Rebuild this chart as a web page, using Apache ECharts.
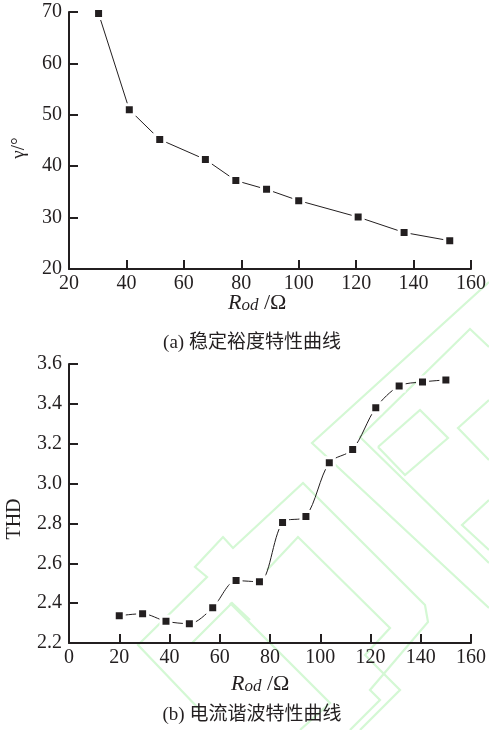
<!DOCTYPE html>
<html>
<head>
<meta charset="utf-8">
<script src="https://cdn.jsdelivr.net/npm/echarts@6/dist/echarts.min.js"></script>
<style>
html,body{margin:0;padding:0;background:#fff;}
#main{width:489px;height:730px;}
</style>
</head>
<body>
<div id="main"></div>
<script>
// Data (a): stability margin
var rodA = [30.3, 41, 51.6, 67.5, 78.1, 88.8, 100, 120.7, 136.7, 152.6];
var gammaA = [69.7, 51, 45.2, 41.3, 37.2, 35.5, 33.3, 30.1, 27.1, 25.5];
// Data (b): THD
var rodB = [20, 29.3, 38.6, 47.9, 57.2, 66.5, 75.8, 85, 94.3, 103.6, 112.9, 122.1, 131.4, 140.7, 150];
var thdB = [2.337, 2.347, 2.309, 2.297, 2.377, 2.513, 2.507, 2.805, 2.835, 3.105, 3.171, 3.38, 3.49, 3.51, 3.52];
// Ticks
var xTicksA = [20, 40, 60, 80, 100, 120, 140, 160];
var yTicksA = [20, 30, 40, 50, 60, 70];
var xTicksB = [0, 20, 40, 60, 80, 100, 120, 140, 160];
var yTicksB = [2.2, 2.4, 2.6, 2.8, 3.0, 3.2, 3.4, 3.6];

var FONT = "'Liberation Serif','Times New Roman',serif";
var CJK = "'Liberation Serif','Noto Sans CJK SC',serif";
var INK = '#231f20';

function pairs(xs, ys){ return xs.map(function(x,i){ return [x, ys[i]]; }); }

function axisCommon(){
  return {
    axisLine:{show:true, onZero:false, lineStyle:{color:INK, width:2}},
    axisTick:{show:true, inside:true, length:9, lineStyle:{color:INK, width:2}},
    splitLine:{show:false},
    axisLabel:{color:INK, fontFamily:FONT, fontSize:20}
  };
}
function mk(extra){ var o = axisCommon(); for (var k in extra){ if (k==='axisLabel'){ for (var j in extra[k]) o.axisLabel[j]=extra[k][j]; } else o[k]=extra[k]; } return o; }

var green = '#d4f8d4';
function wm(points){ return {type:'polyline', silent:true, z:-10, shape:{points:points}, style:{stroke:green, lineWidth:2.2, fill:null}}; }

var richName = {
  r:{font:'italic 22px '+FONT, fill:INK, lineHeight:22, verticalAlign:'bottom'},
  s:{font:'italic 17px '+FONT, fill:INK, lineHeight:17, verticalAlign:'bottom'},
  n:{font:'22px '+FONT, fill:INK, lineHeight:22, verticalAlign:'bottom'}
};

var chart = echarts.init(document.getElementById('main'));
chart.setOption({
  animation:false,
  backgroundColor:'#fff',
  grid:[
    {left:69, top:12, width:409, height:257},
    {left:69, top:364, width:410, height:279}
  ],
  xAxis:[
    mk({type:'value', gridIndex:0, min:xTicksA[0], max:xTicksA[xTicksA.length-1], interval:20, axisLabel:{margin:5}}),
    mk({type:'value', gridIndex:1, min:xTicksB[0], max:xTicksB[xTicksB.length-1], interval:20, axisLabel:{margin:5}})
  ],
  yAxis:[
    mk({type:'value', gridIndex:0, min:yTicksA[0], max:yTicksA[yTicksA.length-1], interval:10, axisLabel:{margin:7}}),
    mk({type:'value', gridIndex:1, min:yTicksB[0], max:yTicksB[yTicksB.length-1], interval:0.2, axisLabel:{margin:7, formatter:function(v){return v.toFixed(1);}}})
  ],
  series:[
    {type:'line', xAxisIndex:0, yAxisIndex:0, data:pairs(rodA, gammaA), symbol:'rect', symbolSize:10,
     lineStyle:{color:INK, width:1}, itemStyle:{color:INK, borderColor:'#fff', borderWidth:3}},
    {type:'line', xAxisIndex:1, yAxisIndex:1, data:pairs(rodB, thdB), symbol:'rect', symbolSize:10, smooth:0.3,
     lineStyle:{color:INK, width:1}, itemStyle:{color:INK, borderColor:'#fff', borderWidth:3}}
  ],
  graphic:[
    // watermark (decorative)
    wm([[489,282],[312,443],[489,608]]),
    wm([[489,347],[470,329],[360,437],[489,563]]),
    wm([[378,447],[420,410],[448,438],[405,475],[378,447]]),
    wm([[489,400],[458,428],[489,460]]),
    wm([[489,500],[462,525],[489,550]]),
    wm([[200,710],[138,645],[207,577],[195,567],[223,537],[233,548],[303,483],[425,605],[428,622],[370,690],[380,700],[350,730]]),
    wm([[192,643],[232,603],[250,620]]),
    wm([[230,603],[330,703],[300,730]]),
    wm([[267,570],[298,537],[390,628],[365,655],[400,690],[360,730]]),
    // y-axis names
    {type:'text', x:19, y:148, rotation:Math.PI/2, style:{text:'γ/°', font:'19px '+FONT, fill:INK, textAlign:'center', textVerticalAlign:'middle'}},
    {type:'text', x:15, y:519, rotation:Math.PI/2, style:{text:'THD', font:'20px '+FONT, fill:INK, textAlign:'center', textVerticalAlign:'middle'}},
    // x-axis names
    {type:'text', x:228, y:303, style:{rich:richName, text:'{r|R}{s|od}{n| /Ω}', textVerticalAlign:'middle'}},
    {type:'text', x:231, y:684, style:{rich:richName, text:'{r|R}{s|od}{n| /Ω}', textVerticalAlign:'middle'}},
    // captions
    {type:'text', x:252, y:343, style:{text:'(a) 稳定裕度特性曲线', font:'19px '+CJK, fill:INK, textAlign:'center', textVerticalAlign:'middle'}},
    {type:'text', x:252, y:715, style:{text:'(b) 电流谐波特性曲线', font:'19px '+CJK, fill:INK, textAlign:'center', textVerticalAlign:'middle'}}
  ]
});
</script>
</body>
</html>
